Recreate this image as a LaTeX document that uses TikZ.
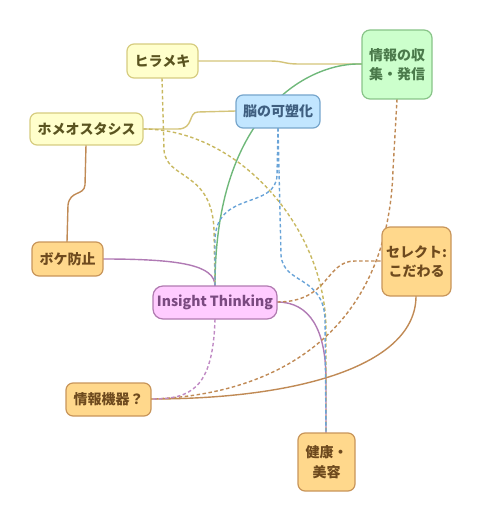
\documentclass[tikz,border=0pt]{standalone}
\usepackage{fontspec}
\setmainfont{Noto Sans CJK JP}
\begin{document}
\begin{tikzpicture}[x=1pt,y=-1pt,
  box/.style={draw, rounded corners=7pt, line width=1.2pt, inner sep=0pt, align=center,
    font=\fontsize{14}{19.5}\selectfont\bfseries},
  ybox/.style={box, fill=yFill, draw=yLine, text=yText},
  gbox/.style={box, fill=gFill, draw=gLine, text=gText},
  bbox/.style={box, fill=bFill, draw=bLine, text=bText},
  obox/.style={box, fill=oFill, draw=oLine, text=oText},
  pbox/.style={box, fill=pFill, draw=pLine, text=pText},
  con/.style={line width=1.4pt},
  dsh/.style={con, dash pattern=on 3.5pt off 2.5pt},
]
\definecolor{yFill}{HTML}{FFFFCC}
\definecolor{yLine}{HTML}{D6CC80}
\definecolor{yText}{HTML}{5A5420}
\definecolor{gFill}{HTML}{CCFFCC}
\definecolor{gLine}{HTML}{88C488}
\definecolor{gText}{HTML}{4B7A4B}
\definecolor{bFill}{HTML}{C2E6FF}
\definecolor{bLine}{HTML}{77A6CC}
\definecolor{bText}{HTML}{3F5F80}
\definecolor{oFill}{HTML}{FFD88C}
\definecolor{oLine}{HTML}{C8955A}
\definecolor{oText}{HTML}{6E4A1E}
\definecolor{pFill}{HTML}{FFCCFF}
\definecolor{pLine}{HTML}{B07AB0}
\definecolor{pText}{HTML}{7A4A80}
\definecolor{cY}{HTML}{D4C47A}
\definecolor{cYd}{HTML}{C8B860}
\definecolor{cG}{HTML}{6FB87A}
\definecolor{cB}{HTML}{6AA4D8}
\definecolor{cBr}{HTML}{C08A55}
\definecolor{cP}{HTML}{B07AB4}
\definecolor{cPd}{HTML}{C08AC4}

\useasboundingbox (0,0) rectangle (481,521);

% connector end points on the node borders
\coordinate (hiraE) at (198,61);
\coordinate (hiraS) at (162,78);
\coordinate (johoW) at (362,64);
\coordinate (johoS) at (397,99);
\coordinate (nohW) at (236,111);
\coordinate (nohS) at (278,128);
\coordinate (homeoE) at (143,129);
\coordinate (homeoS) at (86,145);
\coordinate (bokeN) at (67,242);
\coordinate (bokeE) at (103,259);
\coordinate (selW) at (382,261);
\coordinate (selS) at (416,296);
\coordinate (insN) at (215,286);
\coordinate (insE) at (277,302);
\coordinate (insS) at (215,319);
\coordinate (kikiE) at (151,399);
\coordinate (kenN) at (326,433);

\draw[con, cY] (hiraE) -- (270,61) .. controls (284,61) and (284,64) .. (298,64) -- (johoW);
\draw[con, cG] (johoW) .. controls (310,62) and (215,110) .. (insN);
\draw[con, cY] (nohW) -- (198,112) .. controls (188,112) and (194,129) .. (178,129) -- (homeoE);
\draw[con, cBr] (homeoS) -- (85,185) .. controls (84,196) and (70,190) .. (68,205) -- (bokeN);
\draw[con, cP] (bokeE) .. controls (180,259) and (215,265) .. (insN);
\draw[con, cP] (insE) .. controls (310,302) and (326,330) .. (326,380) -- (kenN);
\draw[con, cBr] (selS) .. controls (416,365) and (300,399) .. (kikiE);

\draw[dsh, cYd] (hiraS) -- (164,150) .. controls (166,180) and (212,170) .. (214,230) -- (insN);
\draw[dsh, cYd] (homeoE) .. controls (240,129) and (326,230) .. (326,330) -- (kenN);
\draw[dsh, cB] (nohS) -- (277,175) .. controls (276,210) and (216,190) .. (215,240) -- (insN);
\draw[dsh, cB] (nohS) -- (281,255) .. controls (283,285) and (324,275) .. (325,320) -- (kenN);
\draw[dsh, cBr] (johoS) -- (393,170) .. controls (388,330) and (280,395) .. (kikiE);
\draw[dsh, cBr] (insE) .. controls (330,302) and (325,261) .. (355,261) -- (selW);
\draw[dsh, cPd] (insS) .. controls (213,390) and (190,399) .. (kikiE);

% nodes
\node[ybox, minimum width=71pt, minimum height=34pt] (hira) at (162.5,61) {ヒラメキ};
\node[gbox, minimum width=70pt, minimum height=69pt, rounded corners=8pt] (joho) at (397,64.5) {情報の収\\集・発信};
\node[bbox, minimum width=84pt, minimum height=33pt] (noh) at (278,111.5) {脳の可塑化};
\node[ybox, minimum width=113pt, minimum height=32pt] (homeo) at (86.5,129) {ホメオスタシス};
\node[obox, minimum width=71pt, minimum height=34pt] (boke) at (67.5,259) {ボケ防止};
\node[obox, minimum width=69pt, minimum height=69pt, rounded corners=8pt] (sel) at (416.5,261.5) {セレクト:\\こだわる};
\node[pbox, minimum width=124pt, minimum height=33pt, rounded corners=10pt] (ins) at (215,302.5) {Insight Thinking};
\node[obox, minimum width=85pt, minimum height=33pt] (kiki) at (108.5,399.5) {情報機器？};
\node[obox, minimum width=57pt, minimum height=58pt] (ken) at (326.5,462) {健康・\\美容};
\end{tikzpicture}
\end{document}
